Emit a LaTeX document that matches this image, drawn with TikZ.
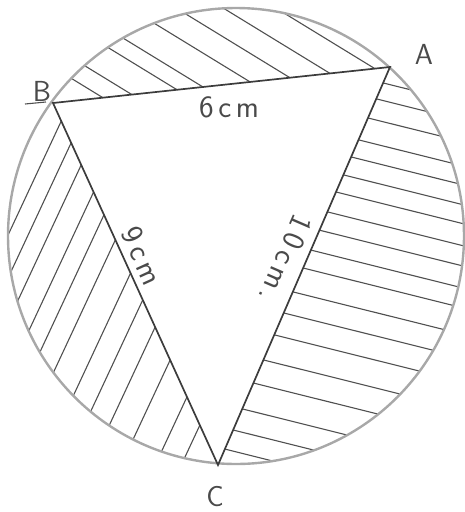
\documentclass[tikz,border=0pt]{standalone}
\usepackage{fontspec}
\usetikzlibrary{calc}
\newfontfamily\handlbl{Latin Modern Sans}
\newfontfamily\handsp[LetterSpace=15]{Latin Modern Sans}
\definecolor{circcol}{HTML}{A8A8A8}
\definecolor{tricol}{HTML}{3C3C3C}
\definecolor{hatchcol}{HTML}{505050}
\definecolor{labcol}{HTML}{4A4A4A}
\tikzset{
  circline/.style={draw=circcol, line width=2.4pt},
  triline/.style={draw=tricol, line width=1.7pt, line join=miter},
  hatchline/.style={draw=hatchcol, line width=1.1pt},
  vertexlbl/.style={text=labcol, inner sep=0pt, font=\fontsize{29}{34}\selectfont\handlbl},
  measlbl/.style={text=labcol, inner sep=0pt, font=\fontsize{31}{36}\selectfont\handsp}
}
\begin{document}
\begin{tikzpicture}[x=1pt, y=-1pt]
\useasboundingbox (0,0) rectangle (465,512);
\coordinate (O) at (236,236);
\coordinate (A) at (390,67);
\coordinate (B) at (53,103);
\coordinate (C) at (218,465);
% top segment hatching
\begin{scope}
  \clip (O) circle [radius=228];
  \clip ($(B)!-2!(A)$) -- ($(A)!-2!(B)$) -- ++(0,-900) -- ($(B)!-2!(A)+(0,-900)$) -- cycle;
  \foreach \t in {0.148,0.234,0.368,0.445,0.585,0.703,0.822,0.955}{
    \coordinate (P) at ($(B)!\t!(A)$);
    \draw[hatchline] ($(P)+(-255.9,-156.6)$) -- ($(P)+(255.9,156.6)$);
  }
\end{scope}
% left segment hatching
\begin{scope}
  \clip (O) circle [radius=228];
  \clip ($(B)!-2!(C)$) -- ($(C)!-2!(B)$) -- ++(-900,0) -- ($(B)!-2!(C)+(-900,0)$) -- cycle;
  \foreach \t in {0.050,0.110,0.171,0.246,0.309,0.378,0.470,0.544,0.619,0.710,0.812,0.890}{
    \coordinate (P) at ($(B)!\t!(C)$);
    \draw[hatchline] ($(P)+(-126.9,271.8)$) -- ($(P)+(126.9,-271.8)$);
  }
\end{scope}
% right segment hatching
\begin{scope}
  \clip (O) circle [radius=228];
  \clip ($(A)!-2!(C)$) -- ($(C)!-2!(A)$) -- ++(900,0) -- ($(A)!-2!(C)+(900,0)$) -- cycle;
  \foreach \t in {0.040,0.080,0.128,0.183,0.226,0.271,0.314,0.364,0.410,0.460,0.505,0.565,0.618,0.673,0.736,0.794,0.859,0.912,0.960}{
    \coordinate (P) at ($(A)!\t!(C)$);
    \draw[hatchline] ($(P)+(-291,-72.6)$) -- ($(P)+(291,72.6)$);
  }
\end{scope}
% circle
\draw[circline] (O) circle [radius=228];
% triangle
\draw[triline] (A) -- (B) -- (C) -- cycle;
% labels
\node[vertexlbl] (la) at (424,54) {A};
\node[vertexlbl] (lb) at (42,91) {B};
\node[vertexlbl] (lc) at (215,497) {C};
\coordinate (u1) at (25,104);
\coordinate (u2) at (46,102);
\draw[hatchline] (u1) -- (u2);
\node[measlbl] (lab) at (229,107) {6cm};
\node[measlbl, rotate=-65.5] (lbc) at (142,256) {9cm};
\node[measlbl, rotate=-113.4] (lac) at (286,259) {10cm.};
\end{tikzpicture}
\end{document}
